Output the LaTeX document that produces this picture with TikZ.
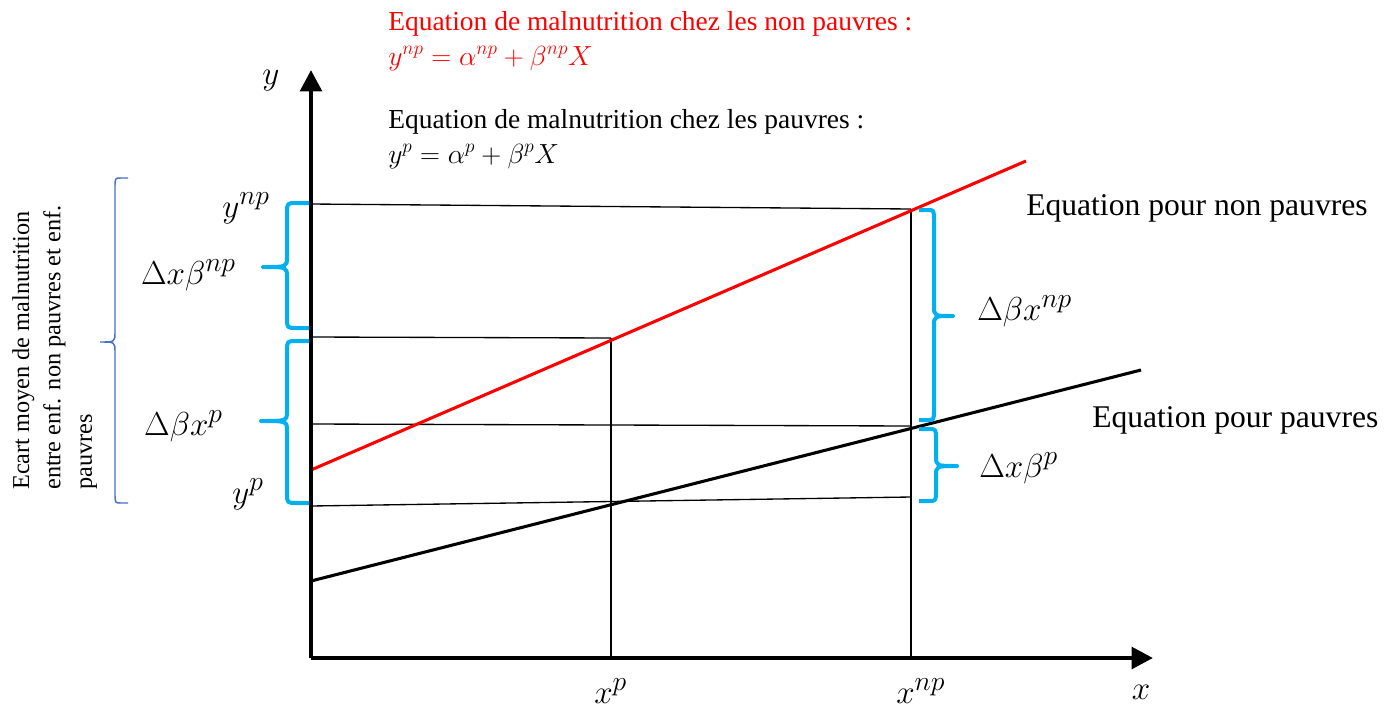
\documentclass[tikz,border=0pt]{standalone}
\usepackage{fontspec}
\setmainfont{Liberation Serif}
\usetikzlibrary{arrows.meta}
\definecolor{wred}{HTML}{FF0000}
\definecolor{cyanb}{HTML}{00B0F0}
\definecolor{steelb}{HTML}{4472C4}
% #1 style, #2 end x, #3 spine x, #4 tip x, #5 top y, #6 tip y, #7 bottom y
\newcommand\wordbrace[7]{%
\draw[#1] (#2,#5) -- ({#3+0.45*(#2-#3)},#5) .. controls (#3,#5) .. (#3,{#5+10})
 -- (#3,{#6-10}) .. controls (#3,#6) .. (#4,#6) .. controls (#3,#6) .. (#3,{#6+10})
 -- (#3,{#7-10}) .. controls (#3,#7) .. ({#3+0.45*(#2-#3)},#7) -- (#2,#7);}
\begin{document}
\begin{tikzpicture}[x=0.75pt,y=-0.75pt,
  thinline/.style={line width=1pt,black},
  axisline/.style={line width=3.4pt,black,-{Triangle[length=16pt,width=16pt]}},
  npline/.style={line width=2.3pt,wred},
  pline/.style={line width=2.3pt,black},
  cbrace/.style={line width=3pt,cyanb,line join=round},
  sbrace/.style={line width=1.1pt,steelb},
  bodytext/.style={inner sep=0pt,font=\fontsize{20.6}{25}\selectfont},
  bodymath/.style={inner sep=0pt,font=\fontsize{21.5}{25}\selectfont},
  bigtext/.style={inner sep=0pt,font=\fontsize{23.7}{28}\selectfont},
  mathlabel/.style={inner sep=0pt,font=\fontsize{29}{33}\selectfont},
  axislabel/.style={inner sep=0pt,font=\fontsize{31}{35}\selectfont}]
\useasboundingbox (0,0) rectangle (1397,711);
% key points
\coordinate (O) at (311,658);
\coordinate (ytop) at (311,70);
\coordinate (xend) at (1153,658);
\coordinate (r0) at (311,470);
\coordinate (r1) at (1026,161);
\coordinate (b0) at (311,581);
\coordinate (b1) at (1141,370);
\coordinate (A) at (911,209);
\coordinate (B) at (611,338);
\coordinate (C) at (911,426);
\coordinate (D) at (611,505);
\coordinate (ynp) at (311,204);
\coordinate (ym) at (311,337);
\coordinate (yq) at (311,424);
\coordinate (yp) at (311,506);
\coordinate (Dr) at (911,497);
\coordinate (xp) at (611,658);
\coordinate (xnp) at (911,658);
% thin guide lines
\draw[thinline] (ynp) -- (A);
\draw[thinline] (ym) -- (B);
\draw[thinline] (yq) -- (C);
\draw[thinline] (yp) -- (Dr);
\draw[thinline] (B) -- (xp);
\draw[thinline] (A) -- (xnp);
% regression lines
\draw[npline] (r0) -- (r1);
\draw[pline] (b0) -- (b1);
% axes
\draw[axisline] (O) -- (ytop);
\draw[axisline] (O) -- (xend);
% braces
\wordbrace{cbrace}{309}{287}{263}{203}{267}{328}
\wordbrace{cbrace}{309}{287}{261}{341}{421}{503}
\wordbrace{cbrace}{919}{934}{953}{210}{316}{420}
\wordbrace{cbrace}{919}{936}{957}{429}{466}{501}
\wordbrace{sbrace}{128}{115}{100}{178}{342}{503}
% axis labels
\node[axislabel,anchor=base] (ylab) at (271,84) {$y$};
\node[axislabel,anchor=base] (xlab) at (1141,699) {$x$};
\node[mathlabel,anchor=base west] (xplab) at (594,703) {$x^{p}$};
\node[mathlabel,anchor=base west] (xnplab) at (896,703) {$x^{np}$};
\node[mathlabel,anchor=base east] (ynplab) at (270,217) {$y^{np}$};
\node[mathlabel,anchor=base east] (yplab) at (264,503) {$y^{p}$};
% brace labels
\node[mathlabel,anchor=base east] (l1) at (236,284) {$\Delta x\beta^{np}$};
\node[mathlabel,anchor=base east] (l2) at (223,435) {$\Delta\beta x^{p}$};
\node[mathlabel,anchor=base west] (l3) at (977,320) {$\Delta\beta x^{np}$};
\node[mathlabel,anchor=base west] (l4) at (979,477) {$\Delta x\beta^{p}$};
% line labels
\node[bigtext,anchor=base west] (enp) at (1026,215) {Equation pour non pauvres};
\node[bigtext,anchor=base west] (ep) at (1092,427) {Equation pour pauvres};
% equations on top
\node[bodytext,text=wred,anchor=base west] (t1) at (388,30) {Equation de malnutrition chez les non pauvres :};
\node[bodymath,text=wred,anchor=base west] (t2) at (388,65) {$y^{np}=\alpha^{np}+\beta^{np}X$};
\node[bodytext,anchor=base west] (t3) at (388,128) {Equation de malnutrition chez les pauvres :};
\node[bodymath,anchor=base west] (t4) at (388,163) {$y^{p}=\alpha^{p}+\beta^{p}X$};
% rotated note
\node[inner sep=0pt,font=\fontsize{18.2}{23.5}\selectfont,align=left,rotate=90,anchor=north west] (note) at (12,490)
 {Ecart moyen de malnutrition\\entre enf. non pauvres et enf.\\pauvres};
\end{tikzpicture}
\end{document}
